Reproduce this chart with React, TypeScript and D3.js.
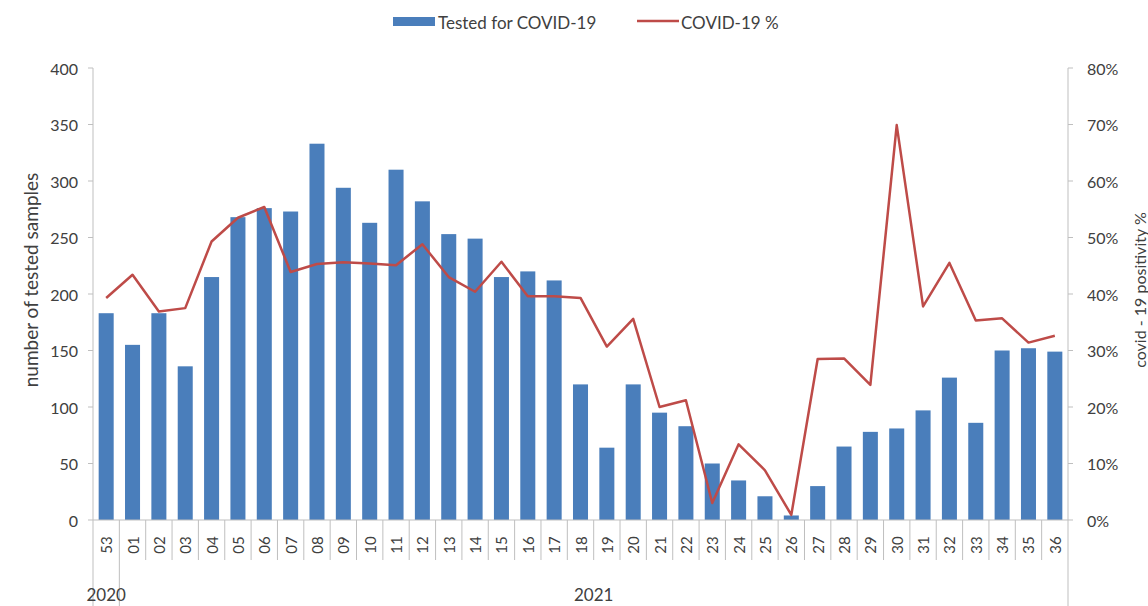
import React from "react";
import * as d3 from "d3";

const weeks = ["53","01","02","03","04","05","06","07","08","09","10","11","12","13","14","15","16","17","18","19","20","21","22","23","24","25","26","27","28","29","30","31","32","33","34","35","36"];
const tested = [183,155,183,136,215,268,276,273,333,294,263,310,282,253,249,215,220,212,120,64,120,95,83,50,35,21,4,30,65,78,81,97,126,86,150,152,149];
const positivity = [39.3,43.4,36.9,37.5,49.3,53.5,55.4,43.9,45.3,45.6,45.4,45.1,48.8,43,40.4,45.7,39.6,39.6,39.3,30.7,35.6,20,21.2,3,13.4,8.8,0.9,28.5,28.6,23.9,69.9,37.8,45.5,35.3,35.7,31.4,32.6];
const years = [{ label: "2020", from: "53", to: "53" }, { label: "2021", from: "01", to: "36" }];
const leftTicks = [0,50,100,150,200,250,300,350,400];
const rightTicks = [0,10,20,30,40,50,60,70,80];

const W = 1148, H = 606;
const x0 = 93, x1 = 1068, yTop = 68, yBot = 520;
const FONT = "Lato, 'Open Sans', sans-serif";
const BLUE = "#4a7ebb";
const RED = "#be4b48";
const GREY = "#bfbfbf";
const TXT = "#404040";

export default function App() {
  const x = d3.scaleBand<string>().domain(weeks).range([x0, x1]).paddingInner(0.43).paddingOuter(0.215);
  const yL = d3.scaleLinear().domain([0, 400]).range([yBot, yTop]);
  const yR = d3.scaleLinear().domain([0, 80]).range([yBot, yTop]);
  const step = x.step();
  const cx = (w: string) => (x(w) as number) + x.bandwidth() / 2;
  const line = d3.line<number>().x((_, i) => cx(weeks[i])).y((d) => yR(d));
  const boundaries = d3.range(weeks.length + 1).map((i) => x0 + i * step);
  const yearBounds = new Set<number>([0, 1, weeks.length]);

  return (
    <svg width={W} height={H} style={{ position: "absolute", left: 0, top: 0, background: "#fff" }} fontFamily={FONT}>
      {/* legend */}
      <rect x={393} y={17} width={42} height={9} fill={BLUE} />
      <text x={438} y={22} fontSize={17} fill={TXT} dominantBaseline="central">Tested for COVID-19</text>
      <line x1={637} x2={679} y1={21} y2={21} stroke={RED} strokeWidth={2.5} />
      <text x={681} y={22} fontSize={17} fill={TXT} dominantBaseline="central">COVID-19 %</text>

      {/* axes */}
      <line x1={x0} x2={x0} y1={yTop} y2={yBot} stroke={GREY} />
      <line x1={x1} x2={x1} y1={yTop} y2={yBot} stroke={GREY} />
      {leftTicks.map((t) => (
        <g key={"l" + t}>
          <line x1={x0 - 5} x2={x0} y1={yL(t)} y2={yL(t)} stroke={GREY} />
          <text x={78} y={yL(t)} fontSize={16} fill={TXT} textAnchor="end" dominantBaseline="central">{t}</text>
        </g>
      ))}
      {rightTicks.map((t) => (
        <g key={"r" + t}>
          <line x1={x1} x2={x1 + 5} y1={yR(t)} y2={yR(t)} stroke={GREY} />
          <text x={1087} y={yR(t)} fontSize={16} fill={TXT} dominantBaseline="central">{t + "%"}</text>
        </g>
      ))}
      <text transform={`translate(30,280) rotate(-90)`} fontSize={19} fill={TXT} textAnchor="middle" dominantBaseline="central">number of tested samples</text>
      <text transform={`translate(1139,290) rotate(-90)`} fontSize={16} fill={TXT} textAnchor="middle" dominantBaseline="central">covid - 19 positivity %</text>

      {/* bars */}
      {tested.map((v, i) => (
        <rect key={"b" + i} x={x(weeks[i])} y={yL(v)} width={x.bandwidth()} height={yBot - yL(v)} fill={BLUE} />
      ))}

      {/* line */}
      <path d={line(positivity) || ""} fill="none" stroke={RED} strokeWidth={2.5} strokeLinejoin="round" />

      {/* x axis */}
      <line x1={x0} x2={x1} y1={yBot} y2={yBot} stroke={GREY} />
      {boundaries.map((bx, i) => (
        <line key={"s" + i} x1={bx} x2={bx} y1={yBot} y2={yearBounds.has(i) ? H : 560} stroke={GREY} />
      ))}
      {weeks.map((w) => (
        <text key={"t" + w} transform={`translate(${cx(w)},545) rotate(-90)`} fontSize={15} fill={TXT} textAnchor="middle" dominantBaseline="central">{w}</text>
      ))}
      {years.map((yr) => {
        const a = x0 + weeks.indexOf(yr.from) * step;
        const b = x0 + (weeks.indexOf(yr.to) + 1) * step;
        return (
          <text key={yr.label} x={(a + b) / 2} y={594} fontSize={17} fill={TXT} textAnchor="middle" dominantBaseline="central">{yr.label}</text>
        );
      })}
    </svg>
  );
}
